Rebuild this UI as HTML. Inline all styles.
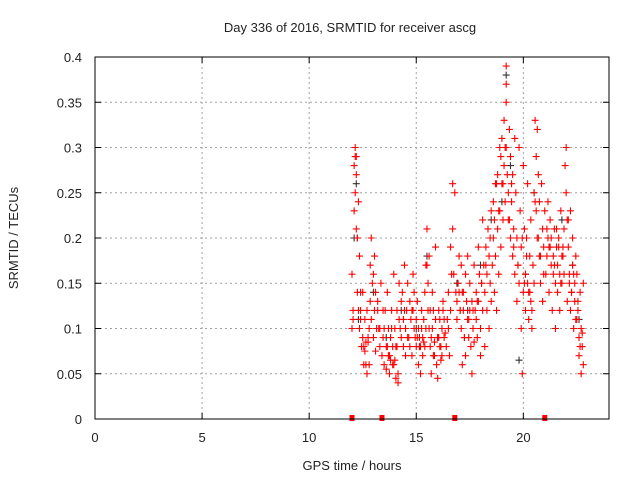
<!DOCTYPE html>
<html><head><meta charset="utf-8"><style>
body{margin:0;background:#fff}
svg text{font-family:"Liberation Sans",sans-serif;fill:#222}
</style></head><body>
<svg id="chart" width="640" height="480" viewBox="0 0 640 480" xmlns="http://www.w3.org/2000/svg">
<rect width="640" height="480" fill="#fff"/>
<text x="350" y="32" font-size="13" text-anchor="middle">Day 336 of 2016, SRMTID for receiver ascg</text>
<text x="18" y="238" font-size="13" text-anchor="middle" transform="rotate(-90 18 238)">SRMTID / TECUs</text>
<text x="352" y="470" font-size="13" text-anchor="middle">GPS time / hours</text>
<g id="grid"></g><g id="ticks"></g><g id="pts"></g>
<rect x="95" y="57" width="514" height="362" fill="none" stroke="#000" stroke-width="1"/>
</svg>
<script>
const xTicks=[0,5,10,15,20];
const yTicks=[0,0.05,0.1,0.15,0.2,0.25,0.3,0.35,0.4];
const yTickLabels=["0","0.05","0.1","0.15","0.2","0.25","0.3","0.35","0.4"];
const gapMarks=[12.0,13.4,16.8,21.0];
const redT=[12.0,12.0,12.05,12.1,12.1,12.15,12.15,12.2,12.2,12.2,12.25,12.25,12.3,12.3,12.35,12.35,12.4,12.4,12.45,12.5,12.5,12.55,12.6,12.6,12.65,12.7,12.7,12.75,12.8,12.8,12.85,12.9,12.9,12.95,13.0,13.0,13.05,13.1,13.1,13.15,13.2,13.2,13.3,13.3,13.35,13.4,13.45,13.5,13.5,13.55,13.6,13.6,13.65,13.7,13.7,13.75,13.8,13.8,13.85,13.9,13.9,13.95,14.0,14.0,14.05,14.1,14.1,14.15,14.2,14.2,14.3,14.3,14.35,14.4,14.4,14.45,14.5,14.5,14.55,14.6,14.6,14.7,14.7,14.75,14.8,14.8,14.85,14.9,14.9,14.95,15.0,15.0,15.05,15.1,15.1,15.15,15.2,15.2,15.25,15.3,15.3,15.35,15.4,15.4,15.45,15.5,15.5,15.55,15.6,15.6,15.65,15.7,15.7,15.75,15.8,15.8,15.85,15.9,15.9,15.95,16.0,16.0,16.05,16.1,16.1,16.15,16.2,16.2,16.25,16.3,16.3,16.4,16.5,16.5,16.55,16.6,16.6,16.65,16.7,16.7,16.8,16.9,16.9,16.95,17.0,17.0,17.05,17.1,17.1,17.15,17.2,17.2,17.25,17.3,17.3,17.35,17.4,17.4,17.45,17.5,17.5,17.55,17.6,17.6,17.65,17.7,17.7,17.75,17.8,17.8,17.85,17.9,17.9,17.95,18.0,18.0,18.05,18.1,18.1,18.15,18.2,18.2,18.25,18.3,18.3,18.35,18.4,18.4,18.45,18.5,18.5,18.55,18.6,18.6,18.65,18.7,18.7,18.75,18.8,18.8,18.85,18.9,18.9,18.95,19.0,19.0,19.05,19.1,19.1,19.15,19.2,19.2,19.2,19.2,19.25,19.3,19.3,19.35,19.4,19.4,19.45,19.5,19.5,19.55,19.6,19.6,19.65,19.7,19.7,19.75,19.8,19.8,19.85,19.9,19.9,19.95,20.0,20.0,20.05,20.1,20.1,20.15,20.2,20.2,20.25,20.3,20.3,20.35,20.4,20.4,20.45,20.5,20.5,20.55,20.6,20.6,20.65,20.7,20.7,20.75,20.8,20.8,20.85,20.9,20.9,20.95,21.0,21.05,21.1,21.1,21.15,21.2,21.2,21.25,21.3,21.3,21.35,21.4,21.4,21.45,21.5,21.5,21.55,21.6,21.6,21.65,21.7,21.7,21.75,21.8,21.8,21.85,21.9,21.9,21.95,22.0,22.0,22.05,22.1,22.1,22.15,22.2,22.2,22.25,22.3,22.3,22.35,22.4,22.4,22.45,22.5,22.5,22.55,22.6,22.6,22.65,22.7,22.7,22.75,22.8,22.8];
const redV=[0.10,0.16,0.12,0.28,0.23,0.30,0.25,0.27,0.21,0.29,0.20,0.14,0.24,0.12,0.18,0.10,0.14,0.11,0.08,0.09,0.14,0.06,0.11,0.075,0.085,0.05,0.12,0.09,0.06,0.10,0.17,0.11,0.20,0.15,0.16,0.09,0.12,0.14,0.075,0.10,0.12,0.13,0.08,0.10,0.15,0.07,0.09,0.06,0.10,0.12,0.08,0.055,0.14,0.07,0.10,0.05,0.09,0.065,0.12,0.06,0.08,0.16,0.065,0.10,0.045,0.12,0.08,0.04,0.15,0.11,0.09,0.13,0.14,0.08,0.11,0.17,0.10,0.07,0.12,0.15,0.09,0.13,0.08,0.11,0.07,0.12,0.16,0.10,0.14,0.09,0.11,0.08,0.13,0.06,0.10,0.09,0.05,0.08,0.12,0.09,0.07,0.11,0.14,0.08,0.10,0.21,0.17,0.15,0.10,0.18,0.12,0.09,0.05,0.14,0.07,0.12,0.085,0.19,0.11,0.06,0.09,0.045,0.12,0.08,0.11,0.065,0.10,0.07,0.13,0.09,0.11,0.08,0.14,0.10,0.07,0.19,0.12,0.16,0.21,0.26,0.25,0.13,0.11,0.15,0.14,0.18,0.12,0.10,0.17,0.06,0.14,0.12,0.09,0.16,0.07,0.13,0.11,0.18,0.09,0.12,0.15,0.08,0.05,0.13,0.10,0.17,0.085,0.12,0.11,0.14,0.09,0.19,0.13,0.16,0.10,0.07,0.15,0.12,0.22,0.17,0.08,0.14,0.19,0.12,0.16,0.21,0.10,0.18,0.15,0.23,0.13,0.17,0.20,0.24,0.14,0.18,0.26,0.12,0.21,0.27,0.16,0.23,0.30,0.19,0.26,0.31,0.22,0.28,0.33,0.24,0.30,0.37,0.39,0.35,0.27,0.22,0.25,0.32,0.20,0.29,0.24,0.18,0.27,0.21,0.31,0.16,0.25,0.20,0.13,0.17,0.30,0.15,0.23,0.10,0.19,0.05,0.14,0.28,0.21,0.16,0.12,0.20,0.26,0.15,0.11,0.18,0.14,0.22,0.12,0.10,0.17,0.25,0.15,0.33,0.29,0.23,0.32,0.20,0.27,0.24,0.18,0.15,0.26,0.21,0.13,0.19,0.23,0.16,0.18,0.21,0.24,0.19,0.14,0.22,0.17,0.20,0.12,0.16,0.18,0.21,0.15,0.10,0.19,0.17,0.14,0.20,0.16,0.12,0.23,0.18,0.15,0.19,0.21,0.16,0.28,0.30,0.25,0.13,0.22,0.19,0.16,0.23,0.12,0.14,0.20,0.17,0.10,0.15,0.13,0.18,0.11,0.16,0.12,0.09,0.07,0.14,0.05,0.10,0.08,0.15,0.06,0.12];
const red2T=[12.05,12.15,12.25,12.4,12.55,12.65,12.75,12.85,13.05,13.25,13.45,13.65,13.75,13.85,13.95,14.05,14.15,14.25,14.45,14.65,14.85,15.05,15.15,15.25,15.35,15.45,15.55,15.65,15.75,15.85,16.05,16.15,16.25,16.35,16.45,16.75,16.85,17.05,17.15,17.25,17.45,17.65,17.85,18.05,18.25,18.45,18.65,18.75,18.85,18.95,19.05,19.15,19.35,19.45,19.55,19.75,19.95,20.05,20.15,20.25,20.35,20.55,20.65,20.75,20.95,21.15,21.25,21.45,21.55,21.65,21.75,21.85,22.05,22.15,22.25,22.35,22.45,22.55,22.65,22.75];
const red2V=[0.11,0.29,0.20,0.12,0.08,0.06,0.085,0.13,0.18,0.10,0.12,0.08,0.07,0.10,0.06,0.08,0.05,0.10,0.12,0.09,0.12,0.09,0.08,0.10,0.085,0.17,0.12,0.08,0.10,0.07,0.09,0.08,0.12,0.095,0.11,0.16,0.14,0.12,0.14,0.09,0.11,0.12,0.13,0.15,0.17,0.20,0.22,0.26,0.23,0.29,0.26,0.30,0.22,0.26,0.19,0.17,0.20,0.15,0.18,0.14,0.13,0.24,0.20,0.18,0.16,0.20,0.19,0.17,0.21,0.19,0.15,0.18,0.22,0.15,0.14,0.16,0.11,0.13,0.08,0.095];
const blackT=[12.1,12.2,12.3,13.0,13.6,14.3,15.0,15.5,16.0,16.9,17.4,18.0,18.5,19.0,19.2,19.4,19.8,20.1,20.5,21.2,21.8,22.3,22.6];
const blackV=[0.20,0.26,0.11,0.14,0.09,0.12,0.10,0.18,0.09,0.15,0.12,0.17,0.22,0.24,0.38,0.28,0.065,0.16,0.25,0.19,0.22,0.17,0.11];
const X0=95,X1=609,Y0=419,Y1=57,XMAX=24,YMAX=0.4;
function sx(t){return X0+(X1-X0)*t/XMAX}
function sy(v){return Y0-(Y0-Y1)*v/YMAX}
const NS="http://www.w3.org/2000/svg";
function mk(tag,attrs,parent){const e=document.createElementNS(NS,tag);for(const k in attrs)e.setAttribute(k,attrs[k]);parent.appendChild(e);return e}
const grid=document.getElementById('grid'),ticks=document.getElementById('ticks'),pts=document.getElementById('pts');
xTicks.forEach(t=>{const x=sx(t);
 if(t>0){const g=mk('line',{x1:x,x2:x,y1:Y1,y2:Y0,stroke:'#a0a0a0','stroke-dasharray':'2,3','stroke-width':1},grid);
 
 }
 const l=mk('text',{x:x,y:442,'font-size':13,'text-anchor':'middle'},ticks);l.textContent=String(t);
 
 
 mk('line',{x1:x,x2:x,y1:Y0,y2:Y0-6,stroke:'#000'},ticks);mk('line',{x1:x,x2:x,y1:Y1,y2:Y1+6,stroke:'#000'},ticks);});
yTicks.forEach((v,i)=>{const y=sy(v);
 if(v>0&&v<YMAX){const g=mk('line',{x1:X0,x2:X1,y1:y,y2:y,stroke:'#a0a0a0','stroke-dasharray':'2,3','stroke-width':1},grid);
 
 }
 const l=mk('text',{x:82,y:y+5,'font-size':13,'text-anchor':'end'},ticks);l.textContent=yTickLabels[i];
 
 
 mk('line',{x1:X0,x2:X0+6,y1:y,y2:y,stroke:'#000'},ticks);mk('line',{x1:X1,x2:X1-6,y1:y,y2:y,stroke:'#000'},ticks);});
function plus(t,v,c,name){const x=sx(t),y=sy(v);
 const p=mk('path',{d:`M${x-3.5} ${y}H${x+3.5}M${x} ${y-3.5}V${y+3.5}`,stroke:c,'stroke-width':1.1,fill:'none'},pts);
 
 }
blackT.forEach((t,i)=>plus(t,blackV[i],'#333','black-point'));
redT.forEach((t,i)=>plus(t,redV[i],'#ff0000','red-point'));
red2T.forEach((t,i)=>plus(t,red2V[i],'#ff0000','red-point'));
gapMarks.forEach(t=>{const r=mk('rect',{x:sx(t)-2.5,y:Y0-4,width:5,height:6,fill:'#ff0000'},pts);
 
 });
</script>
</body></html>
